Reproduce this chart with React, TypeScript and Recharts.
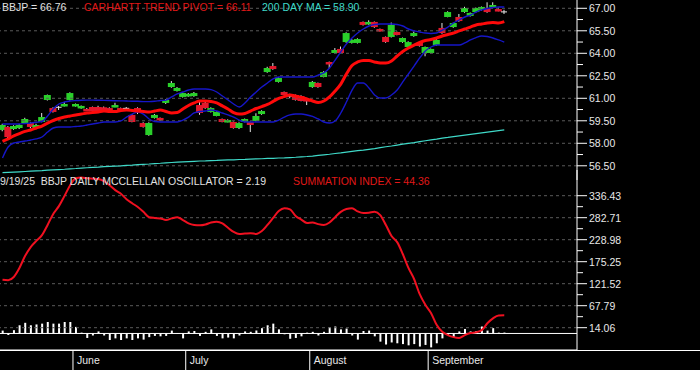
import React from 'react';
import { ComposedChart, Bar, Line, XAxis, YAxis, ReferenceLine } from 'recharts';

// BBJP daily, 5/13/25 .. 9/19/25 (trading days, index 0..89)
const OPEN = [
  58.89, 59.09, 58.95, 59.02, 59.35, 59.35, 59.02, 59.42, 60.89, 60.35,
  60.40, 60.49, 60.89, 60.49, 60.35, 60.29, 60.42, 60.42, 60.40, 60.35,
  60.42, 60.35, 60.33, 59.89, 60.35, 59.35, 58.55, 59.69, 59.69, 60.69,
  61.75, 61.49, 61.09, 61.15, 61.15, 60.55, 60.69, 60.09, 59.82, 59.62,
  59.42, 59.42, 59.02, 59.42, 59.42, 59.49, 59.95, 62.75, 63.15, 62.09,
  61.42, 61.15, 61.22, 61.15, 60.95, 61.75, 62.02, 62.42, 63.42, 64.02,
  64.29, 64.75, 64.69, 64.69, 66.09, 65.95, 66.09, 65.62, 65.09, 65.09,
  65.42, 64.75, 64.42, 65.15, 64.69, 64.02, 64.02, 64.55, 65.69, 66.42,
  65.75, 66.42, 66.75, 66.49, 66.75, 66.89, 67.02, 67.09, 66.95, 66.75,
];
const HIGH = [
  59.30, 59.15, 59.20, 59.30, 59.70, 59.40, 59.30, 60.02, 61.25, 60.40,
  60.49, 60.75, 61.40, 60.65, 60.52, 60.35, 60.45, 60.50, 60.45, 60.40,
  60.70, 60.38, 60.42, 59.95, 60.40, 59.40, 59.40, 59.95, 59.72, 60.95,
  62.15, 61.75, 61.40, 61.35, 61.42, 60.75, 60.75, 60.40, 60.12, 59.65,
  59.60, 59.45, 59.40, 59.65, 59.45, 60.00, 60.20, 63.10, 63.35, 62.40,
  61.45, 61.30, 61.25, 61.20, 61.00, 62.15, 62.05, 62.80, 63.45, 64.35,
  64.45, 65.40, 64.95, 65.00, 66.12, 66.20, 66.12, 65.65, 65.12, 66.05,
  65.45, 65.05, 64.80, 65.45, 64.72, 64.45, 64.32, 64.95, 66.02, 66.80,
  66.05, 66.62, 67.10, 66.72, 67.05, 67.12, 67.40, 67.40, 67.05, 66.90,
];
const LOW = [
  58.80, 58.35, 58.90, 58.95, 59.30, 59.00, 58.95, 59.40, 60.85, 60.05,
  60.22, 60.45, 60.85, 60.45, 60.30, 60.20, 60.12, 60.10, 60.20, 60.15,
  60.40, 60.25, 60.22, 59.40, 59.95, 59.05, 58.50, 59.65, 59.50, 60.62,
  61.70, 61.45, 61.05, 61.10, 61.10, 59.90, 60.30, 60.05, 59.80, 59.40,
  59.40, 58.98, 58.95, 59.40, 58.75, 59.45, 59.90, 62.70, 62.90, 62.05,
  61.20, 61.00, 60.85, 60.80, 60.55, 61.70, 61.70, 62.40, 63.00, 64.00,
  64.00, 64.70, 64.65, 64.65, 65.85, 65.90, 65.70, 65.45, 64.70, 65.05,
  65.20, 64.70, 64.40, 65.10, 64.45, 63.80, 64.00, 64.50, 65.30, 66.40,
  65.70, 66.10, 66.70, 66.45, 66.70, 66.85, 66.70, 67.05, 66.80, 66.62,
];
const CLOSE = [
  59.22, 58.42, 59.15, 59.22, 59.62, 59.09, 59.22, 59.75, 61.22, 60.09,
  60.38, 60.62, 61.35, 60.62, 60.49, 60.22, 60.15, 60.15, 60.22, 60.22,
  60.55, 60.29, 60.32, 59.42, 60.09, 59.09, 59.35, 59.89, 59.55, 60.89,
  62.02, 61.69, 61.35, 61.29, 61.35, 60.02, 60.35, 60.35, 60.09, 59.42,
  59.55, 59.02, 59.35, 59.62, 59.22, 59.82, 60.15, 63.02, 62.95, 62.35,
  61.22, 61.12, 60.89, 60.82, 60.82, 62.09, 61.75, 62.75, 63.29, 64.22,
  64.02, 65.35, 64.89, 64.95, 65.89, 66.09, 65.75, 65.49, 64.75, 65.89,
  65.22, 65.02, 64.75, 65.35, 64.49, 64.42, 64.29, 64.89, 65.35, 66.75,
  66.02, 66.15, 67.02, 66.69, 67.02, 67.09, 66.75, 67.22, 66.85, 66.76,
];

// Carhartt trend pivot (red)
const PIVOT = [
  58.12, 58.29, 58.49, 58.65, 58.79, 58.89, 59.02, 59.15, 59.35, 59.52,
  59.65, 59.75, 59.82, 59.89, 59.95, 60.02, 60.05, 60.09, 60.15, 60.12,
  60.12, 60.19, 60.22, 60.19, 60.15, 60.12, 60.09, 60.15, 60.22, 60.12,
  60.02, 60.05, 60.29, 60.52, 60.69, 60.82, 60.82, 60.79, 60.69, 60.49,
  60.29, 60.05, 59.95, 59.99, 60.15, 60.32, 60.45, 60.59, 60.79, 60.99,
  61.12, 61.22, 61.15, 61.05, 60.95, 60.82, 60.72, 60.82, 61.09, 61.49,
  61.95, 62.62, 63.19, 63.42, 63.52, 63.52, 63.42, 63.35, 63.35, 63.49,
  63.82, 64.12, 64.35, 64.55, 64.72, 64.85, 64.92, 65.02, 65.15, 65.25,
  65.35, 65.49, 65.62, 65.75, 65.89, 65.95, 66.02, 66.05, 66.02, 66.11,
];
// upper / lower bands (blue)
const UPPER = [
  59.29, 59.29, 59.29, 59.29, 59.32, 59.35, 59.40, 59.45, 59.82, 60.29,
  60.62, 60.75, 60.82, 60.85, 60.87, 60.88, 60.88, 60.87, 60.86, 60.85,
  60.84, 60.83, 60.82, 60.80, 60.80, 60.78, 60.78, 60.80, 60.85, 60.88,
  61.09, 61.29, 61.42, 61.55, 61.62, 61.62, 61.62, 61.58, 61.42, 61.15,
  60.89, 60.62, 60.42, 60.69, 61.09, 61.42, 61.75, 62.02, 62.29, 62.42,
  62.42, 62.42, 62.42, 62.42, 62.42, 62.42, 62.55, 62.69, 63.02, 63.55,
  64.09, 64.62, 65.02, 65.35, 65.62, 65.82, 65.92, 65.95, 65.95, 65.95,
  65.92, 65.82, 65.62, 65.49, 65.42, 65.35, 65.32, 65.35, 65.55, 65.75,
  66.02, 66.22, 66.42, 66.55, 66.75, 66.89, 66.99, 67.05, 67.09, 67.09,
];
const LOWER = [
  57.02, 57.75, 58.02, 58.09, 58.15, 58.22, 58.29, 58.42, 58.75, 59.02,
  59.09, 59.09, 59.09, 59.12, 59.15, 59.22, 59.29, 59.35, 59.42, 59.42,
  59.42, 59.49, 59.75, 59.95, 60.09, 59.95, 59.62, 59.45, 59.42, 59.42,
  59.42, 59.42, 59.55, 59.75, 60.02, 60.12, 60.15, 60.22, 60.15, 60.02,
  59.89, 59.75, 59.55, 59.42, 59.42, 59.42, 59.42, 59.42, 59.42, 59.55,
  59.75, 59.89, 59.95, 59.95, 59.89, 59.79, 59.62, 59.42, 59.35, 59.49,
  60.02, 60.75, 61.55, 62.02, 62.02, 61.69, 61.22, 61.02, 61.02, 61.22,
  61.55, 62.09, 62.62, 63.15, 63.69, 64.15, 64.42, 64.55, 64.55, 64.55,
  64.55, 64.55, 64.69, 64.89, 65.05, 65.15, 65.12, 65.02, 64.89, 64.75,
];
const MA200 = [
  56.04, 56.06, 56.08, 56.10, 56.12, 56.14, 56.16, 56.18, 56.21, 56.23,
  56.25, 56.27, 56.30, 56.32, 56.35, 56.37, 56.39, 56.41, 56.44, 56.46,
  56.48, 56.50, 56.53, 56.55, 56.58, 56.60, 56.62, 56.65, 56.67, 56.70,
  56.72, 56.74, 56.76, 56.78, 56.80, 56.82, 56.83, 56.85, 56.86, 56.88,
  56.89, 56.90, 56.92, 56.93, 56.95, 56.96, 56.97, 56.99, 57.00, 57.02,
  57.03, 57.05, 57.07, 57.10, 57.12, 57.15, 57.19, 57.23, 57.27, 57.32,
  57.36, 57.41, 57.46, 57.51, 57.55, 57.60, 57.65, 57.71, 57.77, 57.82,
  57.88, 57.94, 58.00, 58.05, 58.11, 58.17, 58.23, 58.28, 58.34, 58.39,
  58.45, 58.50, 58.55, 58.60, 58.65, 58.70, 58.75, 58.80, 58.85, 58.90,
];

// McClellan summation index (red) and oscillator (white bars)
const SUMMATION = [
  131, 130, 138, 160, 189, 211, 226, 240, 265, 292,
  311, 336, 362, 379, 381, 379, 378, 377, 372, 362,
  350, 341, 328, 318, 309, 297, 284, 282, 281, 277,
  281, 284, 277, 269, 265, 264, 266, 271, 273, 269,
  258, 248, 243, 244, 245, 243, 250, 265, 282, 299,
  306, 303, 287, 278, 270, 271, 267, 265, 271, 284,
  297, 304, 306, 298, 294, 295, 297, 289, 265, 238,
  223, 194, 160, 133, 96, 70, 50, 21, 4, -4,
  -9, -11, -4, 1, 3, 8, 25, 37, 44, 44.36,
];
const OSCILLATOR = [
  7, -4, 8, 20, 26, 20, 22, 24, 28, 24,
  24, 28, 28, 16, 2, -11, -5, 5, -5, -16,
  -12, -16, -12, -16, -12, -15, -9, -6, -7, -6,
  7, 1, -12, 5, 6, -6, 4, 10, -6, -12,
  -10, -12, -5, 5, 4, 7, 13, 20, 24, 10,
  -2, -13, -11, -7, 2, 4, -5, 4, 15, 17,
  10, 12, -5, -15, 6, 7, -7, -20, -27, -22,
  -24, -26, -29, -26, -32, -28, -34, -24, -12, -3,
  -9, 5, 11, 5, 6, 17, 7, 13, 2, 2.19,
];

const MONTHS = ['June', 'July', 'August', 'September'];
const MONTH_START = [13, 33, 55, 76];
const PRICE_TICKS = [56.5, 58, 59.5, 61, 62.5, 64, 65.5, 67];
const SUM_TICKS = [14.06, 67.79, 121.52, 175.25, 228.98, 282.71, 336.43];

const FONT = '"Liberation Sans", Arial, sans-serif';
const FS = 10.5;
const GREEN = '#2ad02a';
const RED = '#e3182c';
const WICK = '#e6e6e6';
const GRID = '#5a5a5a';
const X_DOMAIN: [number, number] = [-0.443, 101.9];

const rows = OPEN.map((open, i) => ({
  i,
  open,
  high: HIGH[i],
  low: LOW[i],
  close: CLOSE[i],
  pivot: PIVOT[i],
  upper: UPPER[i],
  lower: LOWER[i],
  ma: MA200[i],
  sum: SUMMATION[i],
  osc: OSCILLATOR[i],
}));

const withMinors = (majors: number[]) => {
  const out: number[] = [];
  majors.forEach((v, k) => {
    out.push(v);
    if (k < majors.length - 1) out.push((v + majors[k + 1]) / 2);
  });
  return out;
};

function Candle(props: any) {
  const { x, y, width, height, payload } = props;
  const { open, close, high, low } = payload;
  const top = Math.min(y, y + height);
  const h = Math.abs(height);
  const k = h / (high - low);
  const cx = x + width / 2;
  const yOf = (v: number) => top + (high - v) * k;
  const bodyTop = yOf(Math.max(open, close));
  const bodyBot = yOf(Math.min(open, close));
  const doji = Math.abs(open - close) < 0.04;
  return (
    <g>
      <line x1={cx} x2={cx} y1={top} y2={top + h} stroke={WICK} strokeWidth={1} />
      {doji ? (
        <line x1={cx - 3} x2={cx + 3} y1={bodyTop} y2={bodyTop} stroke={WICK} strokeWidth={1} />
      ) : (
        <rect
          x={cx - 3.5}
          y={bodyTop}
          width={7}
          height={Math.max(2.5, bodyBot - bodyTop)}
          fill={close >= open ? GREEN : RED}
        />
      )}
    </g>
  );
}

function axisTick(majors: number[]) {
  return (props: any) => {
    const { x, y, payload } = props;
    const major = majors.some((m) => Math.abs(m - payload.value) < 0.001);
    return (
      <g>
        <line x1={x} x2={x + (major ? 10 : 6)} y1={y} y2={y} stroke="#fff" strokeWidth={1} />
        {major && (
          <text x={x + 12} y={y + 4} fill="#e8e8e8" fontSize={FS} fontFamily={FONT}>
            {payload.value.toFixed(2)}
          </text>
        )}
      </g>
    );
  };
}

function MonthTick(props: any) {
  const { x, y, payload } = props;
  const k = MONTH_START.findIndex((s) => Math.abs(s - 0.5 - payload.value) < 0.01);
  return (
    <g>
      <line x1={x} x2={x} y1={y} y2={y + 20} stroke="#fff" strokeWidth={1} />
      <text x={x + 4} y={y + 14} fill="#e8e8e8" fontSize={FS} fontFamily={FONT}>
        {MONTHS[k]}
      </text>
    </g>
  );
}

const txt = (color: string, left: number, top: number): React.CSSProperties => ({
  position: 'absolute',
  left,
  top,
  color,
  fontSize: FS,
  fontFamily: FONT,
  whiteSpace: 'pre',
  lineHeight: '13px',
});

export default function App() {
  return (
    <div style={{ position: 'absolute', left: 0, top: 0, width: 700, height: 370, background: '#000', overflow: 'hidden' }}>
      <div style={{ position: 'absolute', left: 0, top: 0 }}>
        <ComposedChart width={700} height={180} data={rows} margin={{ top: 0, right: 0, bottom: 0, left: 0 }}>
          <XAxis type="number" dataKey="i" domain={X_DOMAIN} allowDataOverflow hide />
          <YAxis
            orientation="right"
            width={123}
            type="number"
            domain={[55.553, 67.553]}
            allowDataOverflow
            ticks={withMinors(PRICE_TICKS)}
            interval={0}
            tickSize={0}
            tickMargin={0}
            tickLine={false}
            axisLine={{ stroke: '#fff' }}
            tick={axisTick(PRICE_TICKS)}
          />
          {PRICE_TICKS.map((t) => (
            <ReferenceLine key={t} y={t} stroke={GRID} strokeDasharray="3 3" />
          ))}
          <Line dataKey="ma" stroke="#3fd9c8" strokeWidth={1.2} dot={false} activeDot={false} isAnimationActive={false} />
          <Line dataKey="upper" type="monotone" stroke="#1616c8" strokeWidth={1.4} dot={false} activeDot={false} isAnimationActive={false} />
          <Line dataKey="lower" type="monotone" stroke="#1616c8" strokeWidth={1.4} dot={false} activeDot={false} isAnimationActive={false} />
          <Line dataKey="pivot" type="monotone" stroke="#ff0a0a" strokeWidth={3} dot={false} activeDot={false} isAnimationActive={false} />
          <Bar
            dataKey={(d: any) => [d.low, d.high]}
            barSize={6}
            shape={<Candle />}
            activeBar={false}
            isAnimationActive={false}
          />
        </ComposedChart>
      </div>

      <div style={{ position: 'absolute', left: 0, top: 170 }}>
        <ComposedChart width={700} height={200} data={rows} margin={{ top: 0, right: 0, bottom: 0, left: 0 }}>
          <XAxis
            type="number"
            dataKey="i"
            domain={X_DOMAIN}
            allowDataOverflow
            height={20}
            ticks={MONTH_START.map((s) => s - 0.5)}
            interval={0}
            tickSize={0}
            tickMargin={0}
            tickLine={false}
            axisLine={{ stroke: '#fff' }}
            tick={<MonthTick />}
          />
          <YAxis
            orientation="right"
            width={123}
            type="number"
            domain={[-40.4, 399.2]}
            allowDataOverflow
            ticks={withMinors(SUM_TICKS)}
            interval={0}
            tickSize={0}
            tickMargin={0}
            tickLine={false}
            axisLine={{ stroke: '#fff' }}
            tick={axisTick(SUM_TICKS)}
          />
          {SUM_TICKS.map((t) => (
            <ReferenceLine key={t} y={t} stroke={GRID} strokeDasharray="3 3" />
          ))}
          <ReferenceLine y={0} stroke="#fff" strokeWidth={1} />
          <Bar dataKey="osc" fill="#fff" barSize={2} activeBar={false} isAnimationActive={false} />
          <Line dataKey="sum" type="monotone" stroke="#f01020" strokeWidth={2} dot={false} activeDot={false} isAnimationActive={false} />
        </ComposedChart>
      </div>

      <div style={{ position: 'absolute', left: 0, top: 350, width: 700, height: 1, background: '#fff' }} />

      <span style={txt('#e0e0e0', 2, 1)}>BBJP = 66.76</span>
      <span style={txt('#e01818', 84, 1)}>CARHARTT TREND PIVOT = 66.11</span>
      <span style={txt('#3fd9c8', 262, 1)}>200 DAY MA = 58.90</span>
      <span style={txt('#e0e0e0', 0, 175)}>9/19/25  BBJP DAILY MCCLELLAN OSCILLATOR = 2.19</span>
      <span style={txt('#e01818', 293, 175)}>SUMMATION INDEX = 44.36</span>
    </div>
  );
}
